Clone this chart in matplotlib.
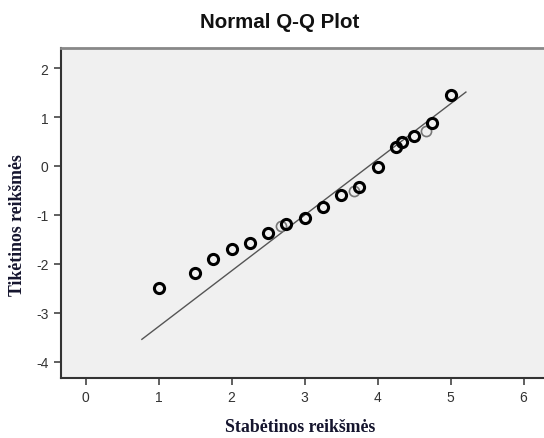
import matplotlib
matplotlib.use("Agg")
import matplotlib.pyplot as plt

plt.rcParams["axes.unicode_minus"] = False

observed = [1.0, 1.5, 1.75, 2.0, 2.25, 2.5, 2.75, 3.0, 3.25, 3.5, 3.75,
            4.0, 4.25, 4.33, 4.5, 4.75, 5.0]
expected = [-2.50, -2.18, -1.90, -1.69, -1.57, -1.36, -1.18, -1.06, -0.83,
            -0.60, -0.43, -0.03, 0.38, 0.49, 0.61, 0.88, 1.46]
# fainter markers (drawn lighter in the original)
observed_light = [2.67, 3.67, 4.67]
expected_light = [-1.22, -0.52, 0.71]

# reference line
line_x = [0.77, 5.21]
line_y = [-3.54, 1.51]

xticks = [0, 1, 2, 3, 4, 5, 6]
yticks = [-4, -3, -2, -1, 0, 1, 2]

fig = plt.figure(figsize=(5.44, 4.39), dpi=100)
ax = fig.add_axes([61 / 544, 1 - 379 / 439, (544 - 61) / 544, 330 / 439])
ax.set_facecolor("#f0f0f0")

ax.plot(line_x, line_y, color="#555555", lw=1.0, zorder=2)
ax.plot(observed_light, expected_light, "o", ms=7.3, mfc="none",
        mec="#777777", mew=1.2, zorder=3)
ax.plot(observed, expected, "o", ms=7.3, mfc="none",
        mec="black", mew=2.2, zorder=4)

ax.set_xlim(-0.338, 6.28)
ax.set_ylim(-4.33, 2.41)
ax.set_xticks(xticks)
ax.set_yticks(yticks)
ax.tick_params(direction="out", length=5, width=1.2, colors="#444444",
               labelcolor="#333333", labelsize=10, pad=4)
for lab in ax.get_xticklabels() + ax.get_yticklabels():
    lab.set_fontfamily("Liberation Sans")

ax.spines["right"].set_visible(False)
ax.spines["top"].set_color("#888888")
ax.spines["top"].set_linewidth(2)
ax.spines["left"].set_color("#333333")
ax.spines["left"].set_linewidth(1.5)
ax.spines["bottom"].set_color("#333333")
ax.spines["bottom"].set_linewidth(1.5)

fig.text(280 / 544, 1 - 23 / 439, "Normal Q-Q Plot", ha="center", va="center",
         fontsize=14.8, fontweight="bold", family="Liberation Sans", color="#111111")
fig.text(300 / 544, 1 - 428 / 439, "Stabėtinos reikšmės", ha="center", va="center",
         fontsize=12.8, fontweight="bold", family="Liberation Serif", color="#15152e")
fig.text(18 / 544, 1 - 225 / 439, "Tikėtinos reikšmės", ha="center", va="center",
         rotation=90, fontsize=12.8, fontweight="bold", family="Liberation Serif",
         color="#15152e")

fig.savefig("out.png", dpi=100)
